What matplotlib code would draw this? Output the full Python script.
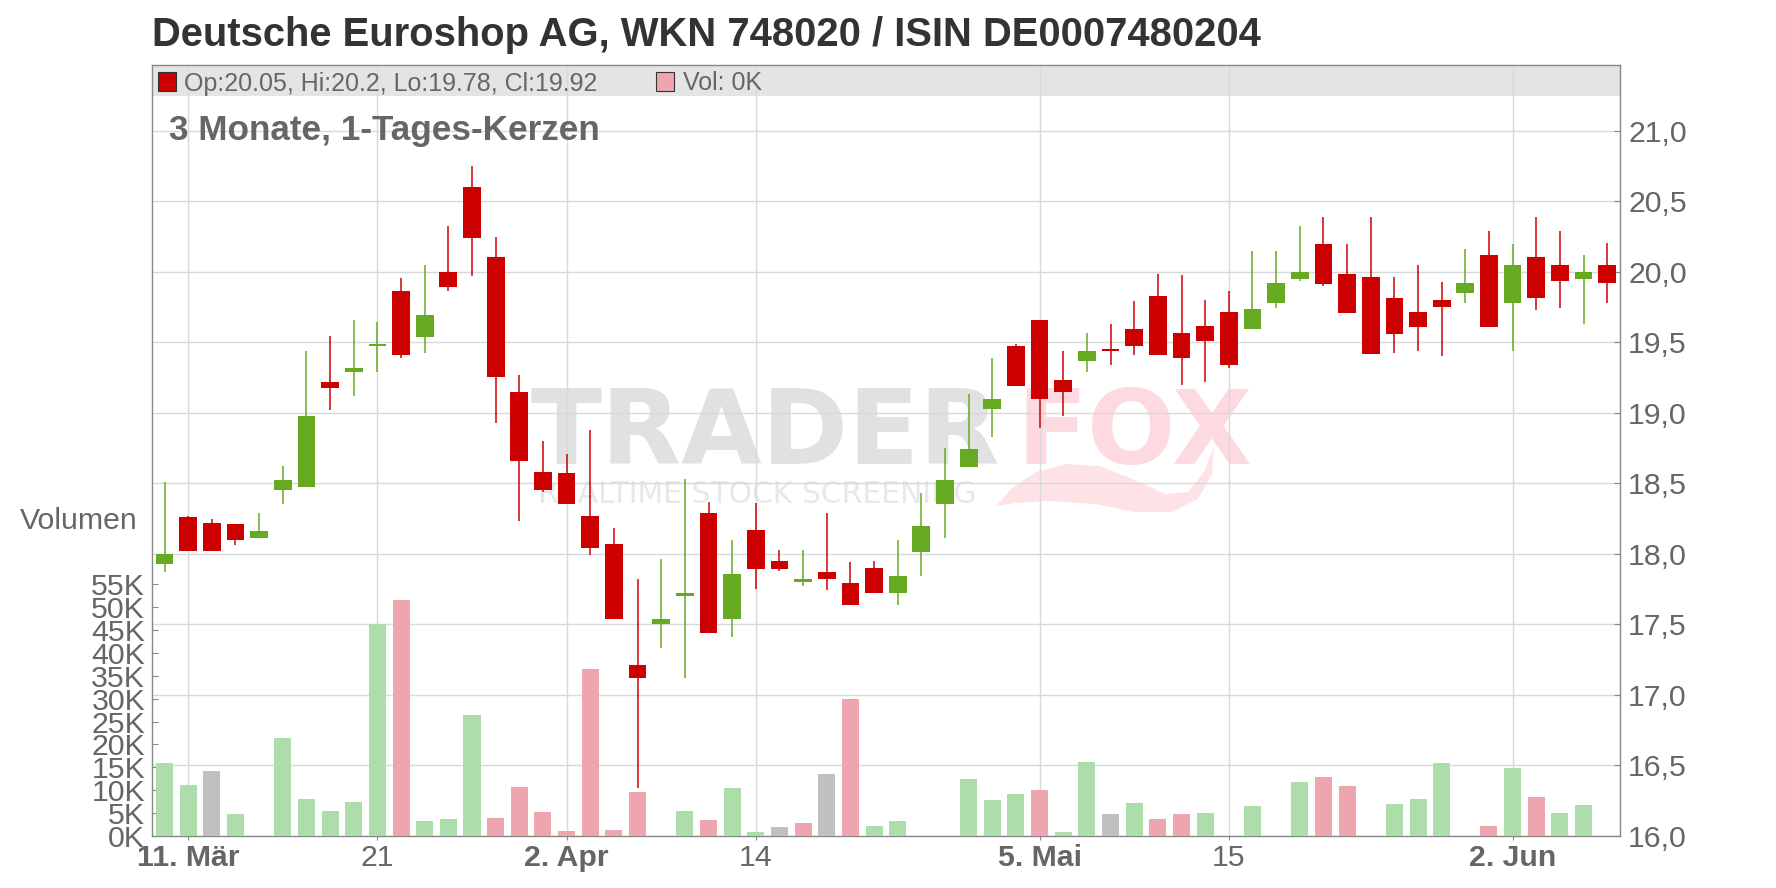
import matplotlib
matplotlib.use("Agg")
import matplotlib.pyplot as plt
from matplotlib.patches import Rectangle, Polygon
import numpy as np
import pandas as pd

plt.rcParams['font.family'] = ['Liberation Sans', 'DejaVu Sans']

# ---------------- data ----------------
holidays = ["2025-04-18", "2025-04-21", "2025-05-01"]
dates = [d for d in pd.bdate_range("2025-03-10", "2025-06-06").strftime("%Y-%m-%d") if d not in holidays]

opens = [17.93, 18.26, 18.22, 18.21, 18.11, 18.45, 18.47, 19.22, 19.29, 19.47,
         19.86, 19.54, 20.00, 20.60, 20.10, 19.15, 18.58, 18.57, 18.27, 18.07,
         17.215, 17.50, 17.70, 18.29, 17.535, 18.17, 17.95, 17.80, 17.87, 17.79,
         17.90, 17.72, 18.01, 18.35, 18.615, 19.025, 19.475, 19.66, 19.23, 19.365,
         19.45, 19.59, 19.83, 19.565, 19.615, 19.715, 19.59, 19.775, 19.95, 20.195,
         19.98, 19.965, 19.815, 19.715, 19.80, 19.85, 20.12, 19.775, 20.10, 20.05,
         19.95, 20.05]
highs = [18.51, 18.27, 18.25, 18.21, 18.29, 18.62, 19.44, 19.545, 19.66, 19.64,
         19.955, 20.05, 20.32, 20.75, 20.245, 19.27, 18.80, 18.71, 18.88, 18.18,
         17.82, 17.96, 18.53, 18.37, 18.10, 18.36, 18.03, 18.03, 18.29, 17.94,
         17.95, 18.10, 18.43, 18.75, 19.13, 19.39, 19.49, 19.66, 19.44, 19.565,
         19.63, 19.79, 19.98, 19.975, 19.80, 19.865, 20.145, 20.145, 20.32, 20.39,
         20.195, 20.39, 19.965, 20.045, 19.925, 20.16, 20.29, 20.195, 20.39, 20.29,
         20.115, 20.20]
lows = [17.87, 18.02, 18.02, 18.06, 18.11, 18.35, 18.47, 19.02, 19.12, 19.29,
        19.385, 19.42, 19.86, 19.97, 18.93, 18.23, 18.44, 18.35, 17.99, 17.535,
        16.34, 17.33, 17.12, 17.44, 17.41, 17.75, 17.875, 17.775, 17.74, 17.64,
        17.72, 17.64, 17.84, 18.11, 18.615, 18.83, 19.19, 18.89, 18.975, 19.29,
        19.335, 19.41, 19.41, 19.195, 19.215, 19.315, 19.59, 19.74, 19.93, 19.895,
        19.71, 19.415, 19.42, 19.44, 19.40, 19.78, 19.61, 19.435, 19.73, 19.74,
        19.63, 19.78]
closes = [18.00, 18.02, 18.02, 18.10, 18.16, 18.52, 18.98, 19.175, 19.32, 19.49,
          19.41, 19.69, 19.89, 20.24, 19.25, 18.66, 18.45, 18.35, 18.04, 17.535,
          17.12, 17.54, 17.72, 17.44, 17.86, 17.895, 17.895, 17.82, 17.82, 17.64,
          17.72, 17.84, 18.20, 18.52, 18.74, 19.10, 19.19, 19.095, 19.15, 19.44,
          19.44, 19.47, 19.41, 19.39, 19.51, 19.335, 19.735, 19.92, 20.00, 19.915,
          19.71, 19.415, 19.555, 19.61, 19.75, 19.92, 19.61, 20.045, 19.81, 19.93,
          20.00, 19.92]
volumes_k = [15.9, 11.1, 14.2, 4.8, 0, 21.4, 8.1, 5.5, 7.4, 46.3,
             51.6, 3.3, 3.7, 26.4, 3.9, 10.7, 5.2, 1.1, 36.5, 1.3,
             9.6, 0, 5.5, 3.5, 10.5, 0.9, 2.0, 2.8, 13.5, 29.9,
             2.2, 3.3, 0, 0, 12.5, 7.9, 9.2, 10.0, 0.9, 16.2,
             4.8, 7.2, 3.7, 4.8, 5.0, 0, 6.6, 0, 11.8, 12.9,
             10.9, 0, 7.0, 8.1, 16.0, 0, 2.2, 14.9, 8.5, 5.0,
             6.7, 0]
volume_dir = ["g", "g", "n", "g", "g", "g", "g", "g", "g", "g",
              "r", "g", "g", "g", "r", "r", "r", "r", "r", "r",
              "r", "g", "g", "r", "g", "g", "n", "r", "n", "r",
              "g", "g", "g", "g", "g", "g", "g", "r", "g", "g",
              "n", "g", "r", "r", "g", "r", "g", "g", "g", "r",
              "r", "r", "g", "g", "g", "g", "r", "g", "r", "g",
              "g", "r"]

price_ticks = [16.0, 16.5, 17.0, 17.5, 18.0, 18.5, 19.0, 19.5, 20.0, 20.5, 21.0]
price_tick_labels = ["16,0", "16,5", "17,0", "17,5", "18,0", "18,5", "19,0", "19,5", "20,0", "20,5", "21,0"]
vol_ticks = [0, 5, 10, 15, 20, 25, 30, 35, 40, 45, 50, 55]
vol_tick_labels = ["0K", "5K", "10K", "15K", "20K", "25K", "30K", "35K", "40K", "45K", "50K", "55K"]
x_tick_dates = ["2025-03-11", "2025-03-21", "2025-04-02", "2025-04-14", "2025-05-05", "2025-05-15", "2025-06-02"]
x_tick_labels = ["11. Mär", "21", "2. Apr", "14", "5. Mai", "15", "2. Jun"]
x_tick_bold = [True, False, True, False, True, False, True]

title = "Deutsche Euroshop AG, WKN 748020 / ISIN DE0007480204"
subtitle = "3 Monate, 1-Tages-Kerzen"

# ---------------- styling ----------------
RED = "#CC0000"
GREEN = "#66AA22"
VCOL = {"g": "#ACDDAA", "r": "#EEA6AE", "n": "#C0C0C0"}
GRID = "#D9D9D9"
AXC = "#888888"
TXT = "#666666"

W, H = 1776, 888
L, R, B, T = 152, 1620, 836, 65
fig = plt.figure(figsize=(W / 100, H / 100), dpi=100)
rect = [L / W, (H - B) / H, (R - L) / W, (B - T) / H]

idx = np.arange(len(dates))

def fx(px):
    return px / W
def fy(py):
    return 1 - py / H

axp = fig.add_axes(rect)
axp.set_xlim(-0.53, 61.54)
price_top = 16.0 + (B - T) / 141.1
axp.set_ylim(16.0, price_top)

# legend band
band_frac = (B - 96) / (B - T)
axp.add_patch(Rectangle((0, band_frac), 1, 1 - band_frac, transform=axp.transAxes,
                        facecolor="#E4E4E4", edgecolor="none", zorder=0.1))

# watermark
axp.text(fx(530), fy(464), "TRADER", transform=fig.transFigure, fontsize=75,
         fontweight="bold", family="DejaVu Sans", color="#E1E1E1", zorder=0.3, va="baseline")
axp.text(fx(1016), fy(464), "FOX", transform=fig.transFigure, fontsize=75,
         fontweight="bold", family="DejaVu Sans", color="#FCDADF", zorder=0.3, va="baseline")
axp.text(fx(538), fy(503), "REALTIME STOCK SCREENING", transform=fig.transFigure, fontsize=21.5,
         family="DejaVu Sans", color="#E8E8E8", zorder=0.3, va="baseline")
tail_px = [(996, 506), (1012, 488), (1036, 472), (1066, 464), (1100, 466), (1135, 480),
           (1165, 494), (1188, 492), (1204, 472), (1214, 446),
           (1212, 474), (1198, 499), (1172, 512), (1135, 512), (1095, 504), (1050, 501),
           (1015, 503)]
axp.add_patch(Polygon([(fx(x), fy(y)) for x, y in tail_px], closed=True, transform=fig.transFigure,
                      facecolor="#FDE2E6", edgecolor="none", zorder=0.3))

axp.set_yticks(price_ticks)
axp.set_yticklabels(price_tick_labels)
xt = [dates.index(d) for d in x_tick_dates]
axp.set_xticks(xt)
axp.set_xticklabels(x_tick_labels)
for lab, bold in zip(axp.get_xticklabels(), x_tick_bold):
    lab.set_fontweight("bold" if bold else "normal")
axp.grid(True, color=GRID, linewidth=1.0)
axp.set_axisbelow(True)
for s in axp.spines.values():
    s.set_color(AXC)
    s.set_linewidth(1.0)

# volume axis
axv = axp.twinx()
axv.set_ylim(0, (B - T) / 4.576)
axv.bar(idx, volumes_k, width=0.72, color=[VCOL[d] for d in volume_dir], zorder=2)
axv.yaxis.tick_left()
axv.set_yticks(vol_ticks)
axv.set_yticklabels(vol_tick_labels)
axv.tick_params(axis="y", direction="in", length=4, color=AXC, labelsize=21.8,
                labelcolor=TXT, pad=5)
for s in axv.spines.values():
    s.set_visible(False)

# candle axis
axc = axp.twinx()
axc.set_ylim(16.0, price_top)
axc.set_yticks([])
for s in axc.spines.values():
    s.set_visible(False)
for i in idx:
    o, h, l, c = opens[i], highs[i], lows[i], closes[i]
    col = GREEN if c >= o else RED
    axc.vlines(i, l, h, color=col, linewidth=1.1, zorder=2)
    hgt = max(abs(c - o), 0.012)
    axc.bar(i, hgt, bottom=min(o, c), width=0.75, color=col, linewidth=0, zorder=3)

axp.yaxis.tick_right()
axp.tick_params(axis="y", direction="in", length=4, color=AXC, labelsize=21.8,
                labelcolor=TXT, pad=5.8)
axp.tick_params(axis="x", direction="out", length=3, color=AXC, labelsize=21.8,
                labelcolor=TXT, pad=3)

# texts
fig.text(fx(L), fy(45.7), title, fontsize=28.8, fontweight="bold", color="#333333", va="baseline")
fig.text(fx(169), fy(140), subtitle, fontsize=25.3, fontweight="bold", color=TXT, va="baseline")
fig.text(fx(79), fy(521), "Volumen", fontsize=21.8, color=TXT, ha="center", va="center")

legend_txt = f"Op:{opens[-1]:g}, Hi:{highs[-1]:g}, Lo:{lows[-1]:g}, Cl:{closes[-1]:g}"
fig.text(fx(184), fy(90.5), legend_txt, fontsize=18, color=TXT, va="baseline")
fig.text(fx(683), fy(90.5), f"Vol: {volumes_k[-1]:g}K", fontsize=18, color=TXT, va="baseline")
fig.patches.append(Rectangle((fx(158), fy(91)), 18 / W, 19 / H, transform=fig.transFigure,
                             facecolor=RED, edgecolor="#333333", linewidth=0.8, figure=fig))
fig.patches.append(Rectangle((fx(656), fy(91)), 18 / W, 19 / H, transform=fig.transFigure,
                             facecolor=VCOL["r"], edgecolor="#333333", linewidth=0.8, figure=fig))

fig.savefig("out.png", dpi=100)
